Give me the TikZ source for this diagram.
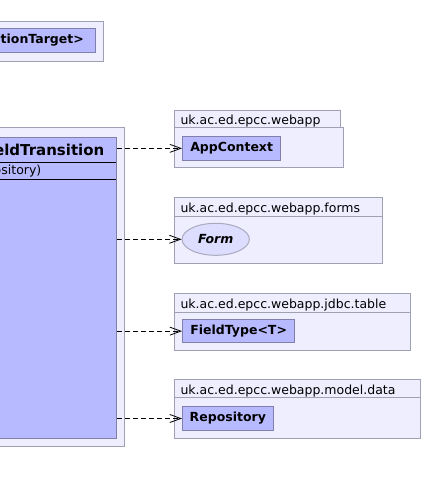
\documentclass[tikz,border=0pt]{standalone}
\usepackage{fontspec}
\setmainfont{DejaVu Sans}
\usetikzlibrary{arrows.meta,shapes.geometric}
\definecolor{pkgfill}{RGB}{238,238,255}
\definecolor{pkgline}{RGB}{160,160,180}
\definecolor{clsfill}{RGB}{184,186,255}
\definecolor{clsline}{RGB}{128,128,170}
\definecolor{ellfill}{RGB}{221,221,255}
\definecolor{ellline}{RGB}{170,170,190}
\begin{document}
\begin{tikzpicture}[x=1pt,y=-1pt,
  pkgbox/.style={draw=pkgline, fill=pkgfill, line width=1pt, inner sep=0pt, anchor=north west},
  pkgtab/.style={pkgbox, inner xsep=6pt, align=left, text height=11pt, text depth=0pt, font=\fontsize{12.5}{15}\selectfont},
  clsbox/.style={draw=clsline, fill=clsfill, line width=1pt, inner sep=0pt, anchor=north west, font=\bfseries\fontsize{12.5}{15}\selectfont},
  dep/.style={line width=0.8pt, dash pattern=on 5pt off 3pt, -{Straight Barb[length=11pt,width=8pt,line width=0.8pt]}}
]
\useasboundingbox (0,0) rectangle (423,484);
\fill[white] (0,0) rectangle (423,484);
\clip (0,0) rectangle (423,484);
% top-left package
\node[pkgbox, minimum width=202.7pt, minimum height=40pt] (pk0) at (-100,20.7) {};
\node[clsbox, minimum width=194.7pt, minimum height=24pt] (tt) at (-100,28.3) {};
\node[anchor=east, inner sep=0pt, font=\bfseries\fontsize{12.5}{15}\selectfont] (ttname) at (84,40.3) {TransitionTarget>};
% main package
\node[pkgbox, minimum width=224.3pt, minimum height=318.7pt] (pkm) at (-100,127.3) {};
\node[clsbox, minimum width=216.3pt, minimum height=301.6pt] (cls) at (-100,136.7) {};
\coordinate (d1l) at (-100,162.3);
\coordinate (d1r) at (116.3,162.3);
\coordinate (d2l) at (-100,179.3);
\coordinate (d2r) at (116.3,179.3);
\draw[line width=1pt] (d1l) -- (d1r);
\draw[line width=1pt] (d2l) -- (d2r);
\node[anchor=east, inner sep=0pt, font=\bfseries\fontsize{15}{18}\selectfont] (clsname) at (104.5,149.5) {FieldTransition};
\node[anchor=east, inner sep=0pt, font=\fontsize{12.5}{15}\selectfont] (clsctor) at (41.5,171) {(Repository)};
% package webapp
\node[pkgbox, minimum width=168.7pt, minimum height=40pt] (pk1) at (174,127.3) {};
\node[pkgtab, minimum width=166.3pt, minimum height=17.3pt, text width=154.3pt] (pk1tab) at (174,110) {uk.ac.ed.epcc.webapp};
\node[clsbox, minimum width=98.3pt, minimum height=23.7pt] (app) at (182,136) {AppContext};
% package forms
\node[pkgbox, minimum width=208.3pt, minimum height=47.6pt] (pk2) at (174,215.7) {};
\node[pkgtab, minimum width=208.3pt, minimum height=18.4pt, text width=196.3pt] (pk2tab) at (174,197.3) {uk.ac.ed.epcc.webapp.forms};
\node[ellipse, draw=ellline, fill=ellfill, line width=1pt, inner sep=0pt, minimum width=67.3pt, minimum height=32pt, font=\bfseries\itshape\fontsize{12.5}{15}\selectfont] (form) at (215.7,239.3) {Form};
% package jdbc.table
\node[pkgbox, minimum width=236.3pt, minimum height=38.3pt] (pk3) at (174,311.7) {};
\node[pkgtab, minimum width=236.3pt, minimum height=18.4pt, text width=224.3pt] (pk3tab) at (174,293.3) {uk.ac.ed.epcc.webapp.jdbc.table};
\node[clsbox, minimum width=112.3pt, minimum height=23.3pt] (ft) at (182,319) {FieldType<T>};
% package model.data
\node[pkgbox, minimum width=246.3pt, minimum height=40.4pt] (pk4) at (174,397.3) {};
\node[pkgtab, minimum width=246.3pt, minimum height=18.3pt, text width=234.3pt] (pk4tab) at (174,379) {uk.ac.ed.epcc.webapp.model.data};
\node[clsbox, minimum width=90.7pt, minimum height=24pt] (repo) at (182,406) {Repository};
% dependencies
\draw[dep] (app.west -| cls.east) -- (app.west);
\draw[dep] (form.west -| cls.east) -- (form.west);
\draw[dep] (ft.west -| cls.east) -- (ft.west);
\draw[dep] (repo.west -| cls.east) -- (repo.west);
\end{tikzpicture}
\end{document}
